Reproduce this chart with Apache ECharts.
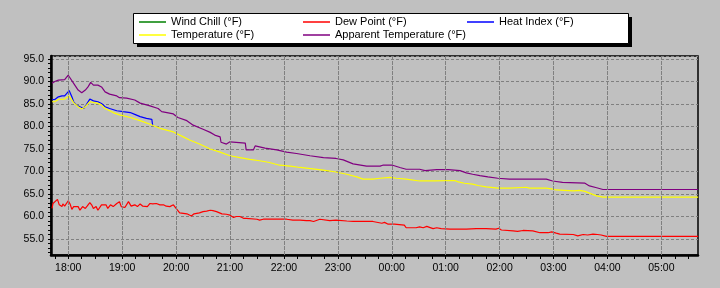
<!DOCTYPE html>
<html><head><meta charset="utf-8">
<script src="https://cdn.jsdelivr.net/npm/echarts@6/dist/echarts.min.js"></script>
<style>html,body{margin:0;padding:0;background:#c0c0c0}#c{width:720px;height:288px}</style>
</head><body><div id="c"></div>
<script>
const seriesNames = ['Wind Chill (°F)', 'Dew Point (°F)', 'Heat Index (°F)', 'Temperature (°F)', 'Apparent Temperature (°F)'];
const seriesColors = ['#008000', '#ff0000', '#0000ff', '#ffff00', '#800080'];
const hourLabels = ['18:00','19:00','20:00','21:00','22:00','23:00','00:00','01:00','02:00','03:00','04:00','05:00'];
const yTickLabels = [55, 60, 65, 70, 75, 80, 85, 90, 95];

const windTimes = [];
const windValues = [];

const dewTimes = ['17:42','17:43','17:45','17:48','17:50','17:53','17:54','17:56','17:58','18:00','18:02','18:04','18:06','18:08','18:11','18:13','18:16','18:19','18:21','18:24','18:26','18:28','18:31','18:33','18:37','18:39','18:42','18:44','18:47','18:50','18:54','18:57','18:59','19:03','19:07','19:10','19:14','19:17','19:20','19:23','19:25','19:28','19:31','19:34','19:38','19:42','19:46','19:49','19:53','19:57','19:59','20:00','20:04','20:08','20:12','20:17','20:20','20:23','20:26','20:30','20:34','20:38','20:41','20:45','20:51','20:56','21:00','21:04','21:07','21:11','21:15','21:18','21:30','21:33','21:37','21:48','22:03','22:10','22:18','22:25','22:29','22:33','22:40','22:51','22:58','23:10','23:11','23:17','23:39','23:41','23:49','23:52','23:56','00:03','00:05','00:14','00:16','00:27','00:31','00:35','00:39','00:42','00:46','00:50','00:55','01:05','01:23','01:25','01:34','01:45','01:56','01:59','02:02','02:15','02:20','02:26','02:37','02:45','02:54','02:58','03:03','03:07','03:22','03:27','03:33','03:38','03:44','03:49','03:53','03:59','05:41'];
const dewValues = [61.8,62.9,62.6,63.8,62.6,62.2,62.8,62.3,62.6,63.5,62.8,61.6,62.2,61.8,62.2,61.4,62.2,61.8,62.3,63.1,62.6,61.8,62.2,61.4,62.6,62.2,62.6,61.8,62.6,62.2,62.9,63.3,62.2,62.0,63.3,62.3,62.6,62.2,62.8,62.3,62.6,62.2,62.9,62.8,62.9,62.6,62.6,62.3,62.2,62.6,62.2,61.8,60.8,60.7,60.6,60.1,60.6,60.7,60.8,61.1,61.2,61.4,61.3,61.1,60.6,60.5,60.3,59.8,60.0,60.0,59.6,59.6,59.4,59.2,59.4,59.4,59.4,59.2,59.2,59.1,59.1,58.9,59.4,59.1,59.2,59.0,59.3,58.9,58.9,58.5,58.5,58.7,58.3,58.3,58.1,58.1,57.5,57.5,57.7,57.5,57.8,57.6,57.3,57.5,57.3,57.2,57.2,57.4,57.3,57.3,57.2,57.4,57.0,56.8,56.7,56.9,56.8,56.4,56.4,56.6,56.3,56.1,56.0,55.7,56.0,55.9,56.1,56.0,55.9,55.6,55.6];

const heatTimes = ['17:42','17:45','17:49','17:53','17:56','17:58','18:01','18:04','18:06','18:09','18:13','18:17','18:20','18:24','18:28','18:33','18:37','18:41','18:46','18:54','19:01','19:09','19:14','19:20','19:27','19:33','19:34'];
const heatValues = [86.0,86.0,86.6,86.8,86.8,87.2,88.0,86.6,85.5,84.8,84.4,84.0,84.8,86.1,85.7,85.5,85.1,84.4,84.0,83.5,83.3,83.1,82.7,82.2,81.8,81.6,80.2];

const tempTimes = ['17:42','17:45','17:49','17:56','18:01','18:06','18:11','18:15','18:19','18:24','18:32','18:37','18:41','18:50','18:57','19:09','19:20','19:31','19:42','19:57','20:08','20:15','20:26','20:38','20:49','21:00','21:11','21:22','21:33','21:44','21:55','22:07','22:18','22:32','22:44','22:58','23:10','23:21','23:28','23:39','23:47','23:58','00:05','00:16','00:31','00:48','00:50','01:10','01:14','01:21','01:30','01:36','01:45','01:58','02:11','02:13','02:30','02:33','02:52','02:59','03:03','03:22','03:29','03:35','03:40','03:48','03:55','05:41'];
const tempValues = [85.5,85.5,86.0,86.1,86.8,85.3,84.4,83.9,84.4,85.5,85.2,84.8,84.0,83.1,82.6,82.0,81.3,80.5,79.6,78.8,77.7,77.0,76.1,75.0,74.3,73.5,73.1,72.7,72.4,72.0,71.4,71.2,70.9,70.6,70.3,69.9,69.4,68.8,68.3,68.3,68.5,68.7,68.5,68.3,67.9,67.9,68.1,68.0,67.7,67.4,67.2,66.9,66.6,66.3,66.3,66.5,66.5,66.3,66.3,66.1,65.9,65.7,65.8,65.6,65.2,64.6,64.3,64.3];

const appTimes = ['17:42','17:45','17:49','17:56','18:00','18:02','18:06','18:11','18:15','18:19','18:22','18:25','18:28','18:33','18:37','18:41','18:46','18:54','18:57','19:05','19:14','19:20','19:31','19:40','19:44','19:57','20:02','20:12','20:19','20:30','20:38','20:43','20:49','20:50','20:56','21:00','21:17','21:18','21:26','21:28','21:39','21:52','22:03','22:14','22:29','22:44','22:58','23:06','23:17','23:32','23:47','23:50','00:01','00:09','00:16','00:31','00:37','00:50','01:03','01:16','01:23','01:30','01:38','01:47','01:58','02:00','02:11','02:13','02:52','02:59','03:10','03:35','03:40','03:48','03:55','05:41'];
const appValues = [89.6,90.0,90.3,90.4,91.4,91.2,89.6,88.1,87.5,88.1,88.8,89.8,89.2,89.2,88.8,87.7,87.2,86.8,86.4,86.3,85.9,85.2,84.6,84.0,83.3,82.8,82.0,81.3,80.3,79.4,78.7,78.1,77.7,76.5,76.1,76.6,76.3,74.8,74.8,75.7,75.2,74.8,74.3,74.0,73.5,73.1,72.9,72.6,71.7,71.2,71.2,71.4,71.4,70.9,70.5,70.5,70.2,70.4,70.4,70.2,69.7,69.4,69.1,68.8,68.5,68.3,68.3,68.5,68.3,67.9,67.6,67.4,66.8,66.4,66.0,66.0];

function toMin(s) {
  const p = s.split(':').map(Number);
  let t = p[0] * 60 + p[1];
  if (p[0] < 12) t += 1440;
  return t - 1080;
}
function pairs(times, vals) { return times.map((t, i) => [toMin(t), vals[i]]); }
function minToLabel(v) {
  let t = ((Math.round(v) + 1080) % 1440 + 1440) % 1440;
  const h = Math.floor(t / 60), m = t % 60;
  return (h < 10 ? '0' : '') + h + ':' + (m < 10 ? '0' : '') + m;
}

const hourValues = hourLabels.map(toMin);
const quarterValues = [];
for (let q = -15; q <= 690; q += 15) quarterValues.push(q);
const yMinor = [];
for (let v = 52; v <= 95; v++) yMinor.push(v);

const X_MIN = -19.2, X_MAX = 700.8, Y_MIN = 51.45, Y_MAX = 95.67;
const FONT = 'Liberation Sans, Arial, sans-serif';

const seriesData = [pairs(windTimes, windValues), pairs(dewTimes, dewValues), pairs(heatTimes, heatValues), pairs(tempTimes, tempValues), pairs(appTimes, appValues)];
const legendPos = [[139, 16.5], [303, 16.5], [467, 16.5], [139, 29.5], [303, 29.5]];

const chart = echarts.init(document.getElementById('c'), null, {renderer: 'canvas'});
const series = seriesNames.map((n, i) => ({
  name: n, type: 'line', data: seriesData[i], xAxisIndex: 0, yAxisIndex: 0,
  symbol: 'none', showSymbol: false, clip: true, z: 3,
  lineStyle: {color: seriesColors[i], width: 1.2},
  itemStyle: {color: seriesColors[i]}
}));
series.push({
  name: 'hourGrid', type: 'line', data: [], xAxisIndex: 0, yAxisIndex: 0, z: 1,
  markLine: {
    silent: true, symbol: ['none', 'none'], label: {show: false}, animation: false,
    lineStyle: {color: '#808080', width: 1, type: [4, 1]},
    emphasis: {disabled: true},
    data: hourValues.map(v => ({xAxis: v}))
  }
});

chart.setOption({
  animation: false,
  backgroundColor: '#c0c0c0',
  textStyle: {fontFamily: FONT},
  graphic: [
    {type: 'rect', z: 0, shape: {x: 137, y: 17, width: 495, height: 30}, style: {fill: '#000'}},
    {type: 'rect', z: 0, shape: {x: 133.5, y: 13.5, width: 495, height: 30}, style: {fill: '#fff', stroke: '#000', lineWidth: 1}}
  ],
  legend: seriesNames.map((n, i) => ({
    data: [{name: n, icon: 'rect'}], left: legendPos[i][0], top: legendPos[i][1], padding: 0,
    itemWidth: 27, itemHeight: 1.5, itemGap: 0, selectedMode: false, z: 10,
    textStyle: {fontSize: 11, color: '#000', fontFamily: FONT}
  })),
  grid: {left: 51, right: 22, top: 56, bottom: 33, show: true, borderColor: '#000', borderWidth: 1.5, outerBoundsMode: 'none', containLabel: false},
  xAxis: [
    {
      type: 'value', min: X_MIN, max: X_MAX, position: 'bottom', offset: 0,
      axisLine: {show: true, onZero: false, lineStyle: {color: '#000', width: 2.5}},
      axisTick: {show: false},
      axisLabel: {customValues: hourValues, formatter: minToLabel, fontSize: 10.5, color: '#000', margin: 8, fontFamily: FONT, hideOverlap: false},
      splitLine: {show: false}
    },
    {
      type: 'value', min: X_MIN, max: X_MAX, position: 'bottom', offset: 0,
      axisLine: {show: false, onZero: false},
      axisTick: {show: true, customValues: quarterValues, length: 4, lineStyle: {color: '#000', width: 1}},
      axisLabel: {show: false},
      splitLine: {show: false}
    }
  ],
  yAxis: [
    {
      type: 'value', min: Y_MIN, max: Y_MAX, position: 'left', splitNumber: 9, offset: 0,
      axisLine: {show: true, onZero: false, lineStyle: {color: '#000', width: 2.5}},
      axisTick: {show: false},
      axisLabel: {customValues: yTickLabels, formatter: v => Number(v).toFixed(1), fontSize: 10.5, color: '#000', margin: 7, fontFamily: FONT},
      splitLine: {show: true, lineStyle: {color: '#808080', width: 1, type: [3, 2]}}
    },
    {
      type: 'value', min: Y_MIN, max: Y_MAX, position: 'left', offset: 0,
      axisLine: {show: false, onZero: false},
      axisTick: {show: true, customValues: yMinor, length: 3, lineStyle: {color: '#000', width: 1}},
      axisLabel: {show: false},
      splitLine: {show: false}
    }
  ],
  series: series
});
</script>
</body></html>
